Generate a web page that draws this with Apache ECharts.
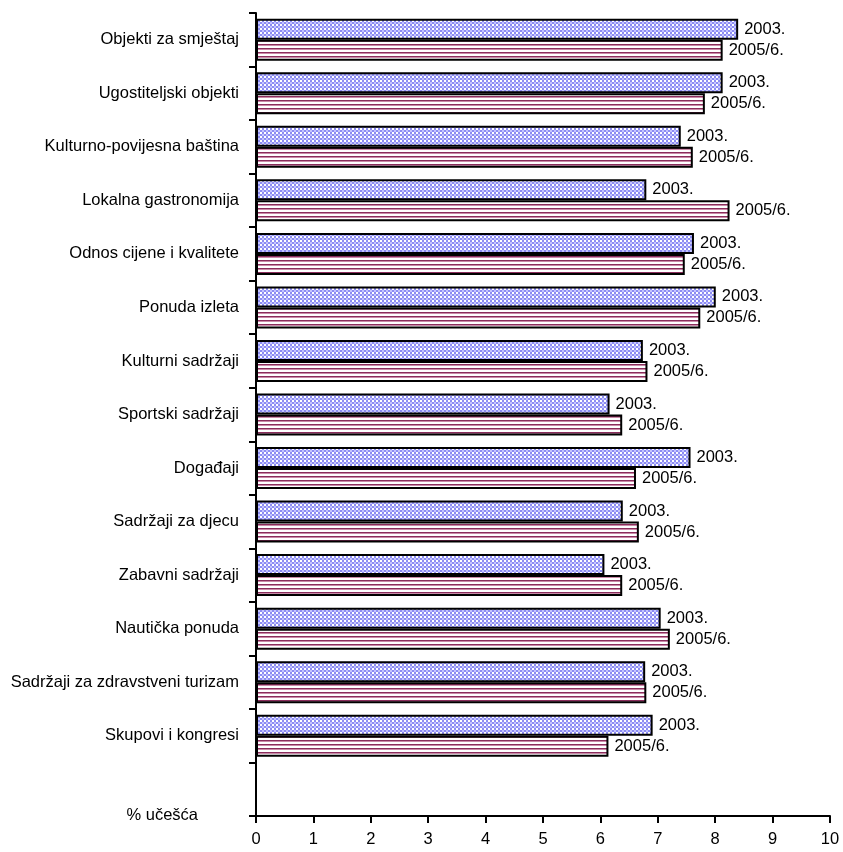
<!DOCTYPE html>
<html>
<head>
<meta charset="utf-8">
<title>Ocjena elemenata turističke ponude</title>
<script src="https://cdn.jsdelivr.net/npm/echarts@6/dist/echarts.min.js"></script>
<style>
  html, body { margin: 0; padding: 0; background: #ffffff; }
  #chart { width: 843px; height: 852px; }
</style>
</head>
<body>
<div id="chart"></div>
<script>
// Categories, top to bottom; the last, empty slot leaves room above the axis
const categories = [
  'Objekti za smještaj',
  'Ugostiteljski objekti',
  'Kulturno-povijesna baština',
  'Lokalna gastronomija',
  'Odnos cijene i kvalitete',
  'Ponuda izleta',
  'Kulturni sadržaji',
  'Sportski sadržaji',
  'Događaji',
  'Sadržaji za djecu',
  'Zabavni sadržaji',
  'Nautička ponuda',
  'Sadržaji za zdravstveni turizam',
  'Skupovi i kongresi',
  ''
];

const seriesNames = ['2003.', '2005/6.'];

const values2003 = [8.40, 8.13, 7.40, 6.80, 7.63, 8.01, 6.74, 6.16, 7.57, 6.39, 6.07, 7.05, 6.78, 6.91, null];
const values2005 = [8.13, 7.82, 7.61, 8.25, 7.47, 7.74, 6.82, 6.38, 6.62, 6.67, 6.38, 7.21, 6.80, 6.14, null];

const xTicks = [0, 1, 2, 3, 4, 5, 6, 7, 8, 9, 10];
const axisTitle = '% učešća';

// Small repeating tiles used as bar fills
function checkerTile() {
  const c = document.createElement('canvas');
  c.width = 4; c.height = 4;
  const g = c.getContext('2d');
  g.fillStyle = '#8c8cf2';
  g.fillRect(0, 0, 4, 4);
  g.fillStyle = '#ffffff';
  g.fillRect(0, 0, 2, 2);
  g.fillStyle = '#c4c4ff';
  g.fillRect(2, 2, 2, 2);
  return c;
}

function stripeTile() {
  const c = document.createElement('canvas');
  c.width = 4; c.height = 4;
  const g = c.getContext('2d');
  g.fillStyle = '#ffffff';
  g.fillRect(0, 0, 4, 4);
  g.fillStyle = '#8a2d5c';
  g.fillRect(0, 0, 4, 1);
  g.fillStyle = '#c98aa8';
  g.fillRect(0, 1, 4, 1);
  return c;
}

const font = '"Liberation Sans", Arial, sans-serif';
const fontSize = 16.5;

const chart = echarts.init(document.getElementById('chart'), null, { renderer: 'canvas' });

function barSeries(name, data, tile) {
  return {
    name: name,
    type: 'bar',
    data: data,
    barWidth: 21,
    barGap: '0%',
    itemStyle: {
      color: { image: tile, repeat: 'repeat' },
      borderColor: '#000000',
      borderWidth: 2
    },
    label: {
      show: true,
      position: 'right',
      distance: 6,
      formatter: name,
      color: '#000000',
      fontFamily: font,
      fontSize: fontSize
    },
    emphasis: { disabled: true },
    animation: false
  };
}

chart.setOption({
  animation: false,
  backgroundColor: '#ffffff',
  grid: { left: 256, right: 13, top: 13, bottom: 36, containLabel: false },
  xAxis: {
    type: 'value',
    min: xTicks[0],
    max: xTicks[xTicks.length - 1],
    interval: 1,
    axisLine: { show: true, lineStyle: { color: '#000000', width: 2 } },
    axisTick: { show: true, length: 7, lineStyle: { color: '#000000', width: 2 } },
    axisLabel: { color: '#000000', fontFamily: font, fontSize: fontSize, margin: 15 },
    splitLine: { show: false }
  },
  yAxis: {
    type: 'category',
    data: categories,
    inverse: true,
    axisLine: { show: true, lineStyle: { color: '#000000', width: 2 } },
    axisTick: { show: true, length: 7, lineStyle: { color: '#000000', width: 2 } },
    axisLabel: { color: '#000000', fontFamily: font, fontSize: fontSize, margin: 17 },
    splitLine: { show: false }
  },
  graphic: [{
    type: 'text',
    right: 645,
    top: 807,
    style: {
      text: axisTitle,
      fill: '#000000',
      font: fontSize + 'px ' + font,
      textAlign: 'right'
    }
  }],
  series: [
    barSeries(seriesNames[0], values2003, checkerTile()),
    barSeries(seriesNames[1], values2005, stripeTile())
  ]
});
</script>
</body>
</html>
